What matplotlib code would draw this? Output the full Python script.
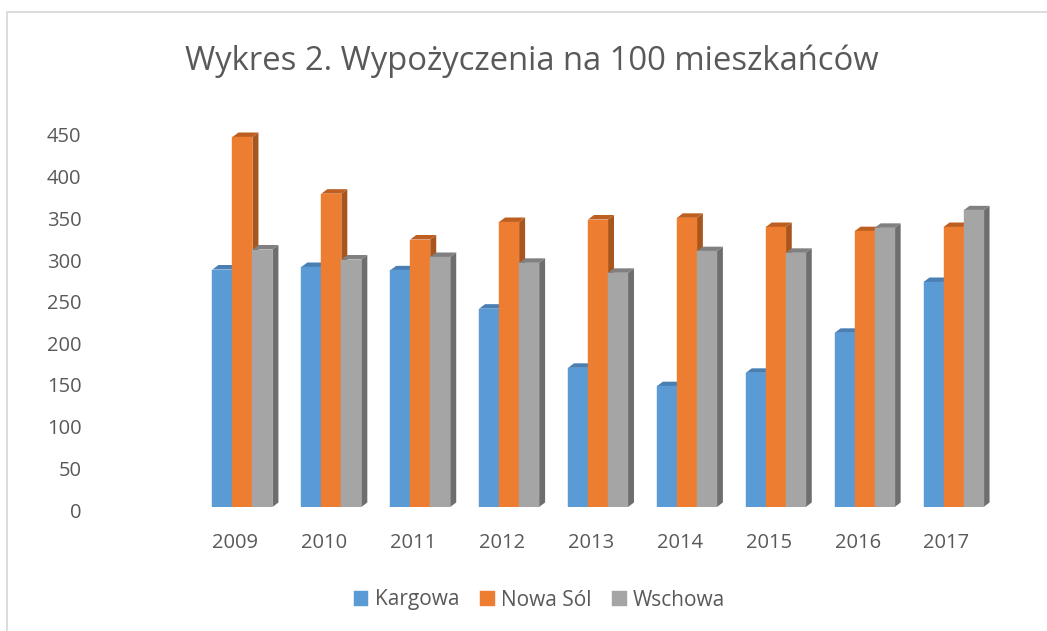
import numpy as np
import matplotlib
matplotlib.use("Agg")
from matplotlib import pyplot as plt
from matplotlib.patches import Polygon, Rectangle
from matplotlib.transforms import ScaledTranslation

# data
years = ["2009", "2010", "2011", "2012", "2013", "2014", "2015", "2016", "2017"]
kargowa = [285, 288, 284, 238, 167, 145, 161, 209, 270]
nowa_sol = [444, 376, 321, 342, 345, 347, 336, 331, 336]
wschowa = [309, 297, 300, 293, 281, 307, 305, 335, 356]

series = {"Kargowa": kargowa, "Nowa Sól": nowa_sol, "Wschowa": wschowa}
# front, side, top colours
colors = {"Kargowa": ("#5b9bd5", "#41719c", "#4a7fb3"),
          "Nowa Sól": ("#ed7d31", "#a9561e", "#be5f22"),
          "Wschowa": ("#a5a5a5", "#6e6e6e", "#808080")}

plt.rcParams["font.family"] = ["Open Sans", "DejaVu Sans"]
text_col = "#595959"

fig = plt.figure(figsize=(10.47, 6.31), dpi=100)
ax = fig.add_axes([198 / 1047, 1 - 507 / 631, 800 / 1047, 375 / 631])

# chart frame
fig.patches.append(Rectangle((7 / 1047, -0.1), 1.2, (631 - 12) / 631 + 0.1,
                             transform=fig.transFigure, fill=False,
                             edgecolor="#d9d9d9", lw=1.3))

x = np.arange(len(years))
w = 0.225
dx = 6 / 89      # depth offset (category units)
dy = 5.4         # depth offset (value units)

for k, (name, vals) in enumerate(series.items()):
    front, side, top = colors[name]
    xs = x + (k - 1) * w
    ax.bar(xs, vals, width=w, color=front, edgecolor=front, lw=0.3,
           label=name, zorder=2 + 3 * k)
    for xi, h in zip(xs, vals):
        x0, x1 = xi - w / 2, xi + w / 2
        ax.add_patch(Polygon([(x1, 0), (x1 + dx, dy), (x1 + dx, h + dy), (x1, h)],
                             closed=True, facecolor=side, edgecolor="none",
                             zorder=1 + 3 * k, clip_on=False))
        ax.add_patch(Polygon([(x0, h), (x0 + dx, h + dy), (x1 + dx, h + dy), (x1, h)],
                             closed=True, facecolor=top, edgecolor="none",
                             zorder=1 + 3 * k, clip_on=False))

ax.set_xlim(-0.5, len(years) - 0.5)
ax.set_ylim(0, 450)
ax.set_yticks(np.arange(0, 451, 50))
ax.set_xticks(x)
ax.set_xticklabels(years)
for s in ax.spines.values():
    s.set_visible(False)
ax.tick_params(axis="both", length=0, labelsize=14.5, labelcolor=text_col)
ax.tick_params(axis="y", pad=84)
ax.tick_params(axis="x", pad=19)
for lab in ax.get_xticklabels():
    lab.set_transform(lab.get_transform() + ScaledTranslation(-0.07, 0, fig.dpi_scale_trans))
for lab in ax.get_yticklabels():
    lab.set_transform(lab.get_transform() + ScaledTranslation(0, -0.03, fig.dpi_scale_trans))

fig.text(0.508, 1 - 61 / 631, "Wykres 2. Wypożyczenia na 100 mieszkańców",
         ha="center", va="center", fontsize=23.6, color=text_col, fontweight="normal")

leg = fig.legend(loc="center", bbox_to_anchor=(0.5153, 1 - 600 / 631), ncol=3,
                 frameon=False, fontsize=15, handlelength=0.7, handleheight=0.7,
                 handletextpad=0.3, columnspacing=1.0, labelcolor=text_col)

fig.savefig("out.png", dpi=100)
